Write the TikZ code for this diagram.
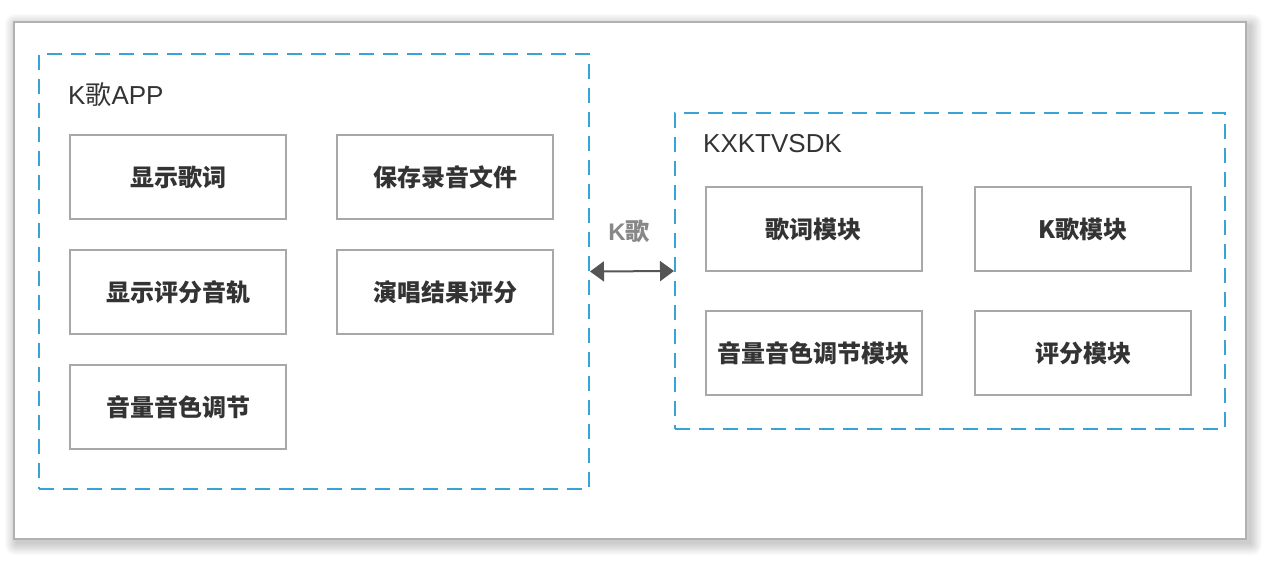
\documentclass[tikz,border=0pt]{standalone}
\usepackage{fontspec}
\setmainfont{Liberation Sans}
\newfontfamily\cjk{Noto Sans CJK SC}
\usetikzlibrary{arrows.meta}
\definecolor{boxgray}{HTML}{A8A8A8}
\definecolor{dashblue}{HTML}{3AA3D6}
\definecolor{txt}{HTML}{333333}
\definecolor{arr}{HTML}{555555}
\definecolor{lbl}{HTML}{888888}
\tikzset{
  modbox/.style={draw=boxgray, line width=2pt, fill=white, minimum width=216pt, minimum height=84pt, inner sep=0pt, font=\cjk\bfseries\fontsize{24pt}{28pt}\selectfont, text=txt},
  groupbox/.style={draw=dashblue, line width=2pt, dash pattern=on 15pt off 9pt, inner sep=0pt},
  title/.style={anchor=base west, inner sep=0pt, text=txt, font=\fontsize{26pt}{30pt}\selectfont},
}
\begin{document}
\begin{tikzpicture}[x=1pt,y=-1pt]
\useasboundingbox (0,0) rectangle (1268,582);
\fill[white] (0,0) rectangle (1268,582);
\foreach \i in {1,...,10} {
  \fill[black, opacity=0.018, rounded corners=\i pt] (17-\i*1.2,26-\i*1.2) rectangle (1250+\i*1.2,543+\i*1.2);
}
\node[draw=boxgray!90, line width=2pt, fill=white, minimum width=1232pt, minimum height=517pt, inner sep=0pt] (frame) at (630,280.5) {};
\node[groupbox, minimum width=550pt, minimum height=435pt] (app) at (314,271.5) {};
\node[groupbox, minimum width=550pt, minimum height=316pt] (sdk) at (950,271) {};
\node[title] (apptitle) at (68,104) {K{\cjk 歌}APP};
\node[title] (sdktitle) at (703,152) {KXKTVSDK};
\node[modbox] (a1) at (178,177) {显示歌词};
\node[modbox] (a2) at (445,177) {保存录音文件};
\node[modbox] (a3) at (178,292) {显示评分音轨};
\node[modbox] (a4) at (445,292) {演唱结果评分};
\node[modbox] (a5) at (178,407) {音量音色调节};
\node[modbox] (s1) at (813.5,229) {歌词模块};
\node[modbox] (s2) at (1083,229) {K歌模块};
\node[modbox] (s3) at (813.5,353) {音量音色调节模块};
\node[modbox] (s4) at (1083,353) {评分模块};
\draw[arr, line width=2pt, {Triangle[length=14pt,width=20pt]}-{Triangle[length=14pt,width=20pt]}] (app.east) -- (sdk.west);
\node[anchor=base, inner sep=0pt, text=lbl, font=\bfseries\fontsize{24pt}{28pt}\selectfont] (klbl) at (629,240) {K{\cjk 歌}};
\end{tikzpicture}
\end{document}
